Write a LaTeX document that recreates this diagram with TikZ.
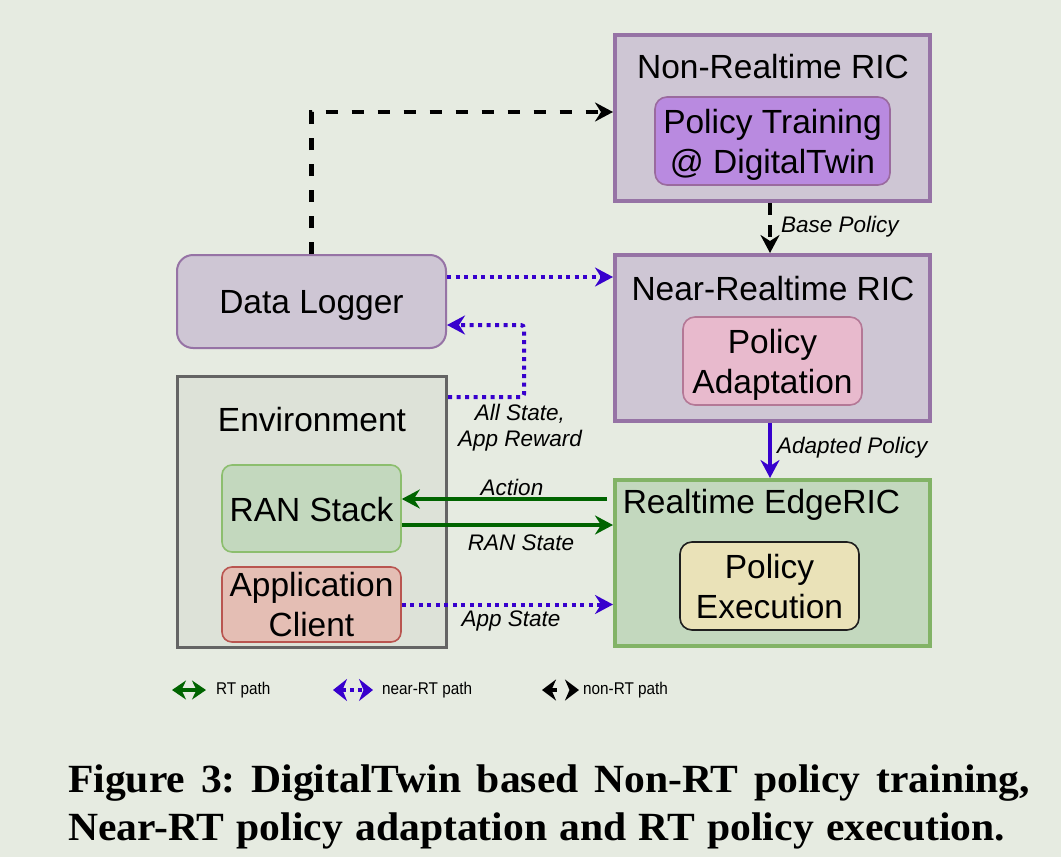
\documentclass[tikz,border=0pt]{standalone}
\usepackage{fontspec}
\setmainfont{Liberation Sans}
\newfontfamily\capfont[FakeStretch=1.04]{Liberation Serif}
\usetikzlibrary{arrows.meta}
\frenchspacing
\definecolor{bg}{RGB}{230,235,225}
\definecolor{purpF}{RGB}{206,198,212}
\definecolor{purpB}{RGB}{150,115,165}
\definecolor{trainF}{RGB}{185,138,224}
\definecolor{trainB}{RGB}{154,106,158}
\definecolor{pinkF}{RGB}{232,186,205}
\definecolor{pinkB}{RGB}{180,120,150}
\definecolor{greenF}{RGB}{195,216,190}
\definecolor{greenB}{RGB}{130,179,102}
\definecolor{yelF}{RGB}{234,226,184}
\definecolor{yelB}{RGB}{30,30,30}
\definecolor{envF}{RGB}{221,226,216}
\definecolor{envB}{RGB}{100,100,100}
\definecolor{ranB}{RGB}{140,190,110}
\definecolor{appF}{RGB}{228,190,180}
\definecolor{appB}{RGB}{185,85,80}
\definecolor{rtc}{RGB}{0,100,0}
\definecolor{nrtc}{RGB}{55,0,205}
\tikzset{
  mainfont/.style={font=\fontsize{33.5}{40}\selectfont},
  ricbox/.style={draw=purpB, fill=purpF, line width=4pt, minimum width=315pt, minimum height=166pt, inner sep=0pt},
  edgebox/.style={draw=greenB, fill=greenF, line width=4pt, minimum width=315pt, minimum height=166pt, inner sep=0pt},
  innerbox/.style={rounded corners=12pt, line width=1.6pt, minimum height=88pt, inner sep=0pt},
  boxtext/.style={inner sep=0pt, align=center, mainfont},
  titletext/.style={inner sep=0pt, mainfont},
  lbl/.style={inner sep=0pt, font=\fontsize{22.5}{26}\selectfont\itshape, align=center},
  legtext/.style={inner sep=0pt, anchor=west, font=\fontsize{17}{19}\selectfont},
  tipA/.tip={Stealth[length=18pt,width=19pt,inset=6pt]},
  legtip/.tip={Stealth[length=14pt,width=19pt,inset=4.5pt]},
  rtarrow/.style={draw=rtc, line width=4pt, -{tipA[fill=rtc]}},
  nrtarrow/.style={draw=nrtc, line width=4pt, dash pattern=on 4pt off 4.5pt, -{tipA[fill=nrtc]}},
  nrtsolid/.style={draw=nrtc, line width=4pt, -{tipA[fill=nrtc]}},
  nonrtarrow/.style={draw=black, line width=4.5pt, dash pattern=on 12pt off 14pt, -{tipA[fill=black]}},
}
\begin{document}
\begin{tikzpicture}[x=1pt,y=-1pt]
\fill[bg] (0,0) rectangle (1061,857);
\useasboundingbox (0,0) rectangle (1061,857);

% right column
\node[ricbox] (nonrt) at (772.5,118) {};
\node[titletext] (nonrtT) at (773,67) {Non-Realtime RIC};
\node[innerbox, draw=trainB, fill=trainF, minimum width=235pt] (ptrain) at (772.5,141) {};
\node[boxtext] (ptrainT) at (772.5,145) {Policy Training\\@ DigitalTwin};

\node[ricbox] (nearrt) at (772.5,338) {};
\node[titletext] (nearrtT) at (773,289) {Near-Realtime RIC};
\node[innerbox, draw=pinkB, fill=pinkF, minimum width=179pt] (padapt) at (772.5,361) {};
\node[boxtext] (padaptT) at (772.5,365) {Policy\\Adaptation};

\node[edgebox] (edge) at (772.5,563) {};
\node[titletext] (edgeT) at (761.5,505) {Realtime EdgeRIC};
\node[innerbox, draw=yelB, fill=yelF, minimum width=179pt] (pexec) at (769.5,586) {};
\node[boxtext] (pexecT) at (769.5,586.5) {Policy\\Execution};

% left column
\node[draw=purpB, fill=purpF, line width=2pt, rounded corners=16pt, minimum width=269pt, minimum height=93pt, inner sep=0pt, text depth=0pt, mainfont] (dl) at (311.5,301.5) {Data Logger};
\node[draw=envB, fill=envF, line width=3pt, minimum width=269pt, minimum height=271pt, inner sep=0pt] (env) at (312,512) {};
\node[titletext] (envT) at (312,420) {Environment};
\node[innerbox, draw=ranB, fill=greenF, minimum width=179pt, minimum height=87pt, rounded corners=10pt] (ran) at (311.5,508.5) {};
\node[boxtext] (ranT) at (311.5,510) {RAN Stack};
\node[innerbox, draw=appB, fill=appF, minimum width=179pt, minimum height=75pt, rounded corners=10pt] (app) at (311.5,604.5) {};
\node[boxtext] (appT) at (311.5,605) {Application\\Client};

% connectors
\draw[nonrtarrow] (dl.north) |- ([yshift=6pt]nonrt.west);
\draw[nonrtarrow, dash pattern=on 12pt off 10pt] ([xshift=-2.5pt]nonrt.south) -- ([xshift=-2.5pt]nearrt.north);
\node[lbl, anchor=west] (lbase) at (781,227) {Base Policy};
\draw[nrtsolid] ([xshift=-2.5pt]nearrt.south) -- ([xshift=-2.5pt]edge.north);
\node[lbl, anchor=west] (ladapt) at (777,448) {Adapted Policy};

\draw[nrtarrow] ([yshift=24.5pt]dl.east) -- ([yshift=61pt]nearrt.west);
\draw[nrtarrow, rounded corners=3pt] ([yshift=115pt]env.east) -- ++(76,0) |- ([yshift=-23.5pt]dl.east);
\node[lbl] (lall) at (520,428) {All State,\\App Reward};

\draw[rtarrow] ([yshift=64pt,xshift=-6pt]edge.west) -- ([yshift=9.5pt]ran.east);
\node[lbl] (lact) at (512,487) {Action};
\draw[rtarrow] ([yshift=-16.5pt]ran.east) -- ([yshift=38pt]edge.west);
\node[lbl] (lran) at (521,543) {RAN State};
\draw[nrtarrow] (app.east) -- ([yshift=-41.5pt]edge.west);
\node[lbl] (lapp) at (511,621) {App State};

% legend
\coordinate (g1) at (172,690); \coordinate (g2) at (206,690);
\draw[draw=rtc, line width=4pt, {legtip[fill=rtc]}-{legtip[fill=rtc]}] (g1) -- (g2);
\node[legtext] (lrt) at (216,690) {\scalebox{0.9}[1]{RT path}};
\coordinate (b1) at (333,690); \coordinate (b2) at (373,690);
\draw[draw=nrtc, line width=4pt, dash pattern=on 4pt off 4pt, {legtip[fill=nrtc,width=22pt]}-{legtip[fill=nrtc,width=22pt]}] (b1) -- (b2);
\node[legtext] (lnrt) at (382,690) {\scalebox{0.9}[1]{near-RT path}};
\coordinate (k1) at (542,690); \coordinate (k2) at (579,690);
\draw[draw=black, line width=4pt, dash pattern=on 6pt off 20pt, {legtip[fill=black,width=21pt]}-{legtip[fill=black,width=21pt]}] (k1) -- (k2);
\node[legtext] (lnon) at (583,690) {\scalebox{0.9}[1]{non-RT path}};

% caption
\node[anchor=base west, inner sep=0pt, font=\capfont\bfseries\fontsize{40}{48}\selectfont] (cap1) at (68,792) {\makebox[962pt][s]{Figure 3: DigitalTwin based Non-RT policy training,}};
\node[anchor=base west, inner sep=0pt, font=\capfont\bfseries\fontsize{40}{48}\selectfont] (cap2) at (68,840) {\makebox[937pt][s]{Near-RT policy adaptation and RT policy execution.}};
\end{tikzpicture}
\end{document}
